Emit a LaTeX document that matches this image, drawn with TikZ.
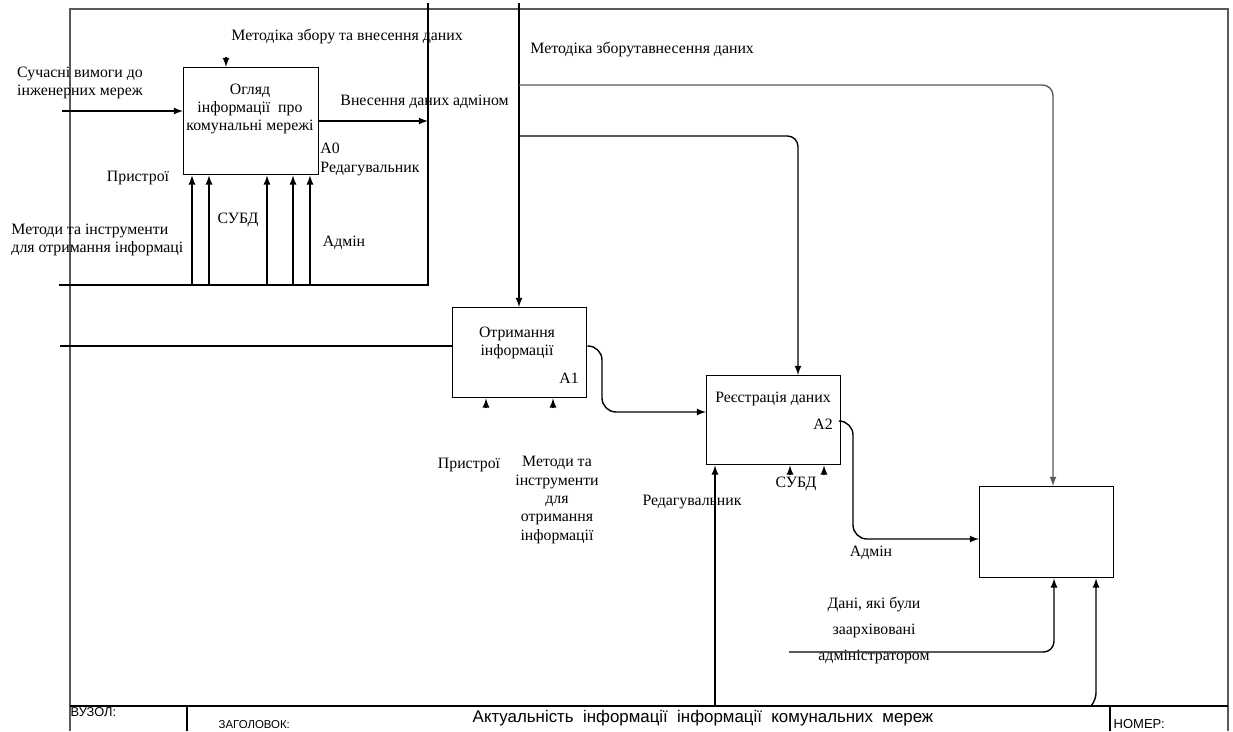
\documentclass[tikz,border=0pt]{standalone}
\usepackage{fontspec}
\setmainfont{Liberation Serif}
\newfontfamily\footfont{Liberation Sans}
\usetikzlibrary{positioning}

\begin{document}
\begin{tikzpicture}[x=0.02cm, y=-0.02cm, >=latex, line width=0.8pt,
		every node/.style={font=\fontsize{9}{10.5}\selectfont, inner sep=1pt},
		func/.style={draw, anchor=north west, inner sep=0pt, minimum width=2.68cm, minimum height=1.8cm},
		foot/.style={font=\footfont\fontsize{6.5}{7}\selectfont, inner sep=0pt},
		gray line/.style={draw=black!65}]
	\useasboundingbox (0,0) rectangle (1233,731);
	
	% рамка та нижній рядок
	\draw[gray line] (70,731) -- (70,9) -- (1228,9) -- (1228,731);
	\draw (70,706) -- (1228,706);
	\draw (187,706) -- (187,731);
	\draw (1110,706) -- (1110,731);
	\node[foot, font=\footfont\fontsize{7.3}{8}\selectfont, anchor=north west] (uzol) at (70,707) {ВУЗОЛ:};
	\node[foot, anchor=west] (zag) at (218,725) {ЗАГОЛОВОК:};
	\node[foot, font=\footfont\fontsize{9.6}{10}\selectfont] (title) at (703,718) {Актуальність\ \ інформації\ \ інформації\ \ комунальних\ \ мереж};
	\node[foot, font=\footfont\fontsize{7.4}{8}\selectfont, anchor=west] (nomer) at (1113,724) {НОМЕР:};
	
	% блоки
	\node[func, minimum width=2.70cm, minimum height=2.14cm] (a0) at (183,67) {};
	\node[func] (a1) at (452,307) {};
	\node[func, minimum height=1.78cm] (a2) at (706,375) {};
	\node[func, minimum height=1.82cm] (a3) at (979,486) {};
	
	\node[align=center] (a0t) at (250,109) {Огляд\\інформації\ \ про\\комунальні мережі};
	\node[align=left, anchor=north west] (a0n) at (318,141) {A0\\Редагувальник};
	\node[align=center] (a1t) at (517,343) {Отримання\\інформації};
	\node (a1n) at (569,378) {A1};
	\node (a2t) at (773,399) {Реєстрація даних};
	\node (a2n) at (823,424) {A2};
	
	% A0: входи, керування, механізми
	\coordinate (in0) at (62,111);
	\draw[->] (in0) -- (a0.west |- in0);
	\node[align=center] (req) at (80,83) {Сучасні вимоги до\\ інженерних мереж};
	\coordinate (c0) at (226,57);
	\draw[->] (c0) -- (c0 |- a0.north);
	\node[anchor=west] (meth0) at (229,37) {Методіка збору та внесення даних};
	\coordinate (bnd) at (428,285);
	\draw (59,285) -- (bnd) -- (428,3);
	\draw[->] (a0.east |- 0,121) -- (bnd |- 0,121);
	\node[anchor=west] (out0) at (338,102) {Внесення даних адміном};
	\foreach \m in {192,209,267,293,310}
		\draw[->] (\m,285) -- (\m,0 |- a0.south);
	\node (pr0) at (138,178) {Пристрої};
	\node (db0) at (238,220) {СУБД};
	\node (adm0) at (344,243) {Адмін};
	\node[align=left, anchor=west] (mt0) at (9,240) {Методи та інструменти\\для отримання інформаці};
	
	% керування зверху
	\coordinate (top) at (519,3);
	\draw[->] (top) -- (top |- a1.north);
	\draw[gray line, ->, rounded corners=6pt] (519,85) -| (a3.north -| 1053,0);
	\draw[->, rounded corners=6pt] (519,136) -| (a2.north -| 798,0);
	\node[anchor=west] (meth1) at (528,50) {Методіка зборутавнесення даних};
	
	% A1
	\draw (60,346) -- (a1.west |- 0,346);
	\draw[->, rounded corners=8pt] (a1.east |- 0,346) -| (602,412) -- (a2.west |- 0,412);
	\foreach \m in {486,553}
		\draw[->] (\m,408) -- (\m,0 |- a1.south);
	\node (pr1) at (469,465) {Пристрої};
	\node[align=center] (mt1) at (557,500) {Методи та\\інструменти\\для\\отримання\\інформації};
	
	% A2
	\draw[->, rounded corners=8pt] (a2.east |- 0,421) -| (853,539) -- (a3.west |- 0,539);
	\draw[->] (715,706) -- (a2.south -| 715,0);
	\foreach \m in {790,824}
		\draw[->] (\m,475) -- (\m,0 |- a2.south);
	\node (db2) at (796,484) {СУБД};
	\node (ed2) at (692,502) {Редагувальник};
	\node (adm2) at (871,553) {Адмін};
	
	% останній блок
	\draw[->, rounded corners=6pt] (789,652) -| (a3.south -| 1054,0);
	\draw[->, rounded corners=4pt] (1091,706) -- (1096,700) -- (a3.south -| 1096,0);
	\node[align=center, font=\fontsize{9}{14.8}\selectfont] (arch) at (874,631) {Дані, які були\\заархівовані\\адміністратором};
\end{tikzpicture}
\end{document}
